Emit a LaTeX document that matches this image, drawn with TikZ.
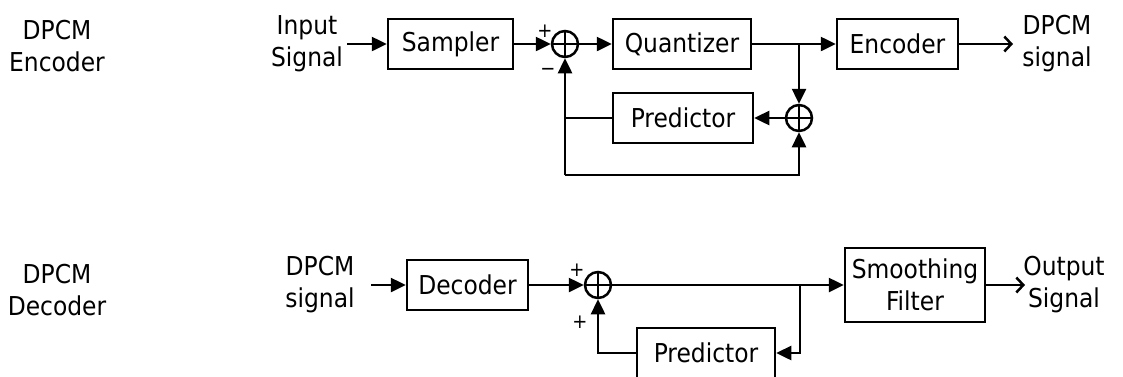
\documentclass[tikz,border=0pt]{standalone}
\usepackage{fontspec}
\setmainfont{DejaVu Sans Condensed}
\usetikzlibrary{arrows.meta}
\begin{document}
\begin{tikzpicture}[x=1pt,y=-1pt,
  blk/.style={draw,line width=2.5pt,minimum height=50pt,inner sep=0pt,font=\fontsize{26}{32}\selectfont},
  lbl/.style={align=center,inner sep=0pt,font=\fontsize{26}{32}\selectfont},
  sgn/.style={inner sep=0pt,font=\fontsize{20}{22}\selectfont},
  sumnode/.style={circle,draw,line width=2.5pt,minimum size=26pt,inner sep=0pt,
    path picture={\draw[line width=2.5pt] (path picture bounding box.north) -- (path picture bounding box.south)
      (path picture bounding box.west) -- (path picture bounding box.east);}},
  wire/.style={line width=2.5pt},
  arr/.style={wire,-{Triangle[length=15pt,width=14pt]}},
  oarr/.style={wire,-{Straight Barb[length=7pt,width=15pt]}}
]
\useasboundingbox (0,0) rectangle (1123,376);
\clip (0,0) rectangle (1123,376);
% ---------- Encoder ----------
\node[lbl] (encl) at (57,46) {DPCM\\Encoder};
\node[lbl] (inl) at (307,44) {Input\\Signal};
\coordinate (a0) at (347,44);
\node[blk,minimum width=125pt] (samp) at (450.5,44) {Sampler};
\node[sumnode] (s1) at (565,44) {};
\node[blk,minimum width=138pt] (quant) at (682,44) {Quantizer};
\node[blk,minimum width=121pt] (enc) at (897.5,44) {Encoder};
\node[blk,minimum width=140pt] (pred1) at (683,118) {Predictor};
\node[sumnode] (s2) at (799,118) {};
\node[lbl] (outl1) at (1057,44) {DPCM\\signal};
\coordinate (b1) at (799,44);
\coordinate (c1) at (565,118);
\coordinate (d1) at (565,175);
\coordinate (e1) at (799,175);
\coordinate (o1) at (1013,44);
\node[sgn] (p1) at (545,31) {+};
\node[sgn] (m1) at (548,72) {−};

\draw[arr] (a0) -- (samp);
\draw[arr] (samp) -- (s1);
\draw[arr] (s1) -- (quant);
\draw[wire] (quant) -- (b1);
\draw[arr] (b1) -- (enc);
\draw[arr] (b1) -- (s2);
\draw[arr] (s2) -- (pred1);
\draw[oarr] (enc) -- (o1);
\draw[wire] (pred1) -- (c1);
\draw[arr] (d1) -- (s1);
\draw[arr] (d1) -- (e1) -- (s2);

% ---------- Decoder ----------
\node[lbl] (decl) at (57,290) {DPCM\\Decoder};
\node[lbl] (inl2) at (320,285) {DPCM\\signal};
\coordinate (a2) at (371,285);
\node[blk,minimum width=121pt] (dec) at (467.5,285) {Decoder};
\node[sumnode] (s3) at (598,285) {};
\node[blk,minimum width=140pt,minimum height=74pt,align=center] (smooth) at (915,285) {Smoothing\\Filter};
\node[blk,minimum width=138pt] (pred2) at (706,353) {Predictor};
\node[lbl] (outl2) at (1064,285) {Output\\Signal};
\coordinate (b2) at (800,285);
\coordinate (c2) at (800,353);
\coordinate (d2) at (598,353);
\coordinate (o2) at (1025,285);
\node[sgn] (p2) at (577,270) {+};
\node[sgn] (p3) at (580,322) {+};

\draw[arr] (a2) -- (dec);
\draw[arr] (dec) -- (s3);
\draw[arr] (s3) -- (smooth);
\draw[arr] (b2) -- (c2) -- (pred2);
\draw[arr] (pred2) -- (d2) -- (s3);
\draw[oarr] (smooth) -- (o2);
\end{tikzpicture}
\end{document}
